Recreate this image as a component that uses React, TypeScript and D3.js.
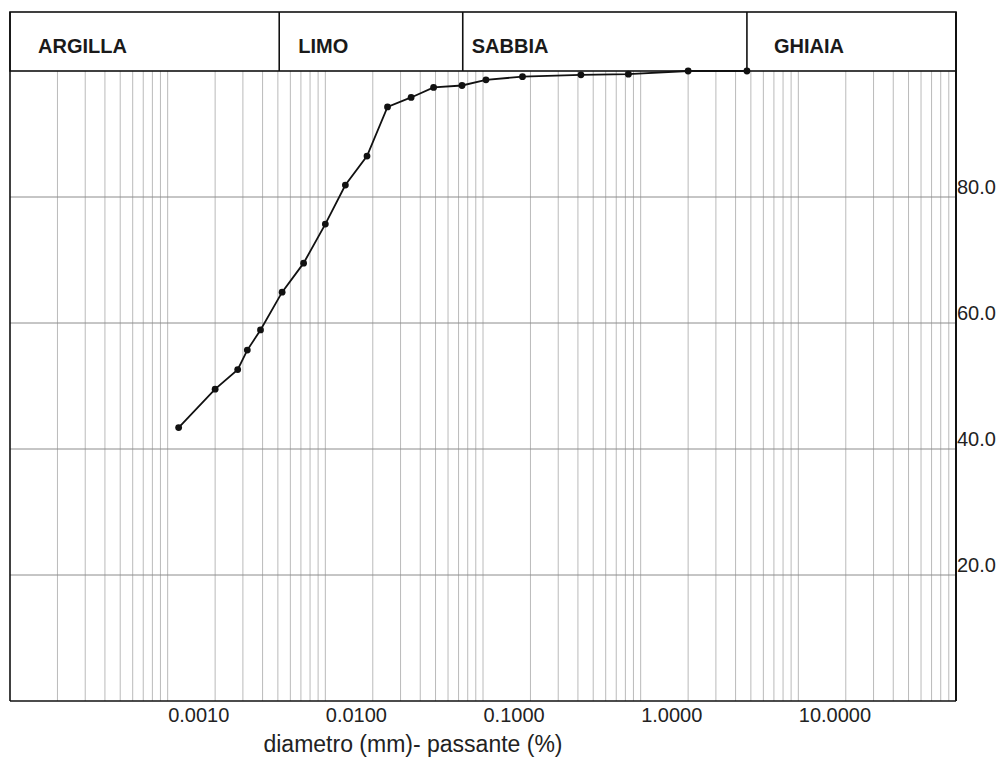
import React from "react";
import * as d3 from "d3";

// Grain-size distribution (curva granulometrica)
const diameters = [
  0.000587, 0.001, 0.00139, 0.0016, 0.00194, 0.00266, 0.00364, 0.005, 0.0067,
  0.00919, 0.0124, 0.0175, 0.0243, 0.0368, 0.0522, 0.089, 0.209, 0.418, 1.0, 2.36,
];
const passing = [
  43.4, 49.5, 52.6, 55.7, 58.9, 64.9, 69.5, 75.7, 81.9, 86.5, 94.3, 95.8, 97.4,
  97.7, 98.6, 99.1, 99.4, 99.5, 100, 100,
];

const xTickValues = [0.001, 0.01, 0.1, 1, 10];
const xTickLabels = ["0.0010", "0.0100", "0.1000", "1.0000", "10.0000"];
const yTickValues = [20, 40, 60, 80];
const yTickLabels = ["20.0", "40.0", "60.0", "80.0"];

// grid mantissas used in each decade
const gridMantissas = [1, 1.5, 2, 2.5, 3, 3.5, 4, 4.5, 5];
const gridDecades = [-4, -3, -2, -1, 0, 1];

// soil classes in the header band
const classNames = ["ARGILLA", "LIMO", "SABBIA", "GHIAIA"];
const classBounds = [0.00005, 0.00255, 0.0372, 2.36, 50];
const classLabelPad = [28, 19, 9, 27];

const W = 998;
const H = 761;
const left = 10;
const right = 956;
const top = 71;
const bottom = 701;
const headerTop = 12;

export default function App() {
  const x = d3.scaleLog().domain([0.00005, 50]).range([left, right]);
  const y = d3.scaleLinear().domain([0, 100]).range([bottom, top]);

  const gridX: number[] = [];
  gridDecades.forEach((k) =>
    gridMantissas.forEach((m) => {
      const v = m * Math.pow(10, k);
      if (v > 0.00005 && v < 50) gridX.push(v);
    })
  );

  const pts = diameters.map((d, i) => [d, passing[i]] as [number, number]);
  const line = d3
    .line<[number, number]>()
    .x((d) => x(d[0]))
    .y((d) => y(d[1]));

  const font = "'Liberation Sans', Arial, Helvetica, sans-serif";

  return (
    <svg
      width={W}
      height={H}
      viewBox={`0 0 ${W} ${H}`}
      style={{ position: "absolute", left: 0, top: 0, background: "#fff" }}
      fontFamily={font}
    >
      <rect x={0} y={0} width={W} height={H} fill="#fff" />

      {/* vertical log grid */}
      {gridX.map((v, i) => (
        <line
          key={"gx" + i}
          x1={x(v)}
          x2={x(v)}
          y1={top}
          y2={bottom}
          stroke="#bababa"
          strokeWidth={1}
        />
      ))}

      {/* horizontal grid */}
      {yTickValues.map((v) => (
        <line
          key={"gy" + v}
          x1={left}
          x2={right}
          y1={y(v)}
          y2={y(v)}
          stroke="#8c8c8c"
          strokeWidth={1}
        />
      ))}

      {/* plot frame */}
      <line x1={left} x2={left} y1={headerTop} y2={bottom} stroke="#111" strokeWidth={1.6} />
      <line x1={left} x2={right} y1={bottom} y2={bottom} stroke="#111" strokeWidth={1.6} />
      <line x1={right} x2={right} y1={headerTop} y2={bottom} stroke="#111" strokeWidth={2} />

      {/* header band */}
      <rect
        x={left}
        y={headerTop}
        width={right - left}
        height={top - headerTop}
        fill="none"
        stroke="#111"
        strokeWidth={1.6}
      />
      {classBounds.slice(1, -1).map((b, i) => (
        <line
          key={"cb" + i}
          x1={x(b)}
          x2={x(b)}
          y1={headerTop}
          y2={top}
          stroke="#111"
          strokeWidth={1.6}
        />
      ))}
      {classNames.map((name, i) => (
        <text
          key={name}
          x={x(classBounds[i]) + classLabelPad[i]}
          y={53}
          fontSize={20}
          fontWeight="bold"
          fill="#1a1a1a"
        >
          {name}
        </text>
      ))}

      {/* curve */}
      <path d={line(pts) || ""} fill="none" stroke="#111" strokeWidth={1.8} />
      {pts.map((p, i) => (
        <circle key={"p" + i} cx={x(p[0])} cy={y(p[1])} r={3.4} fill="#111" />
      ))}

      {/* x tick labels */}
      {xTickValues.map((v, i) => (
        <text key={"xt" + v} x={x(v) - 47} y={722} fontSize={20} fill="#222">
          {xTickLabels[i]}
        </text>
      ))}

      {/* y tick labels */}
      {yTickValues.map((v, i) => (
        <text key={"yt" + v} x={right + 1} y={y(v) - 3.5} fontSize={20} fill="#222">
          {yTickLabels[i]}
        </text>
      ))}

      {/* axis title */}
      <text x={413} y={752} fontSize={23} textAnchor="middle" fill="#222">
        diametro (mm)- passante (%)
      </text>
    </svg>
  );
}
